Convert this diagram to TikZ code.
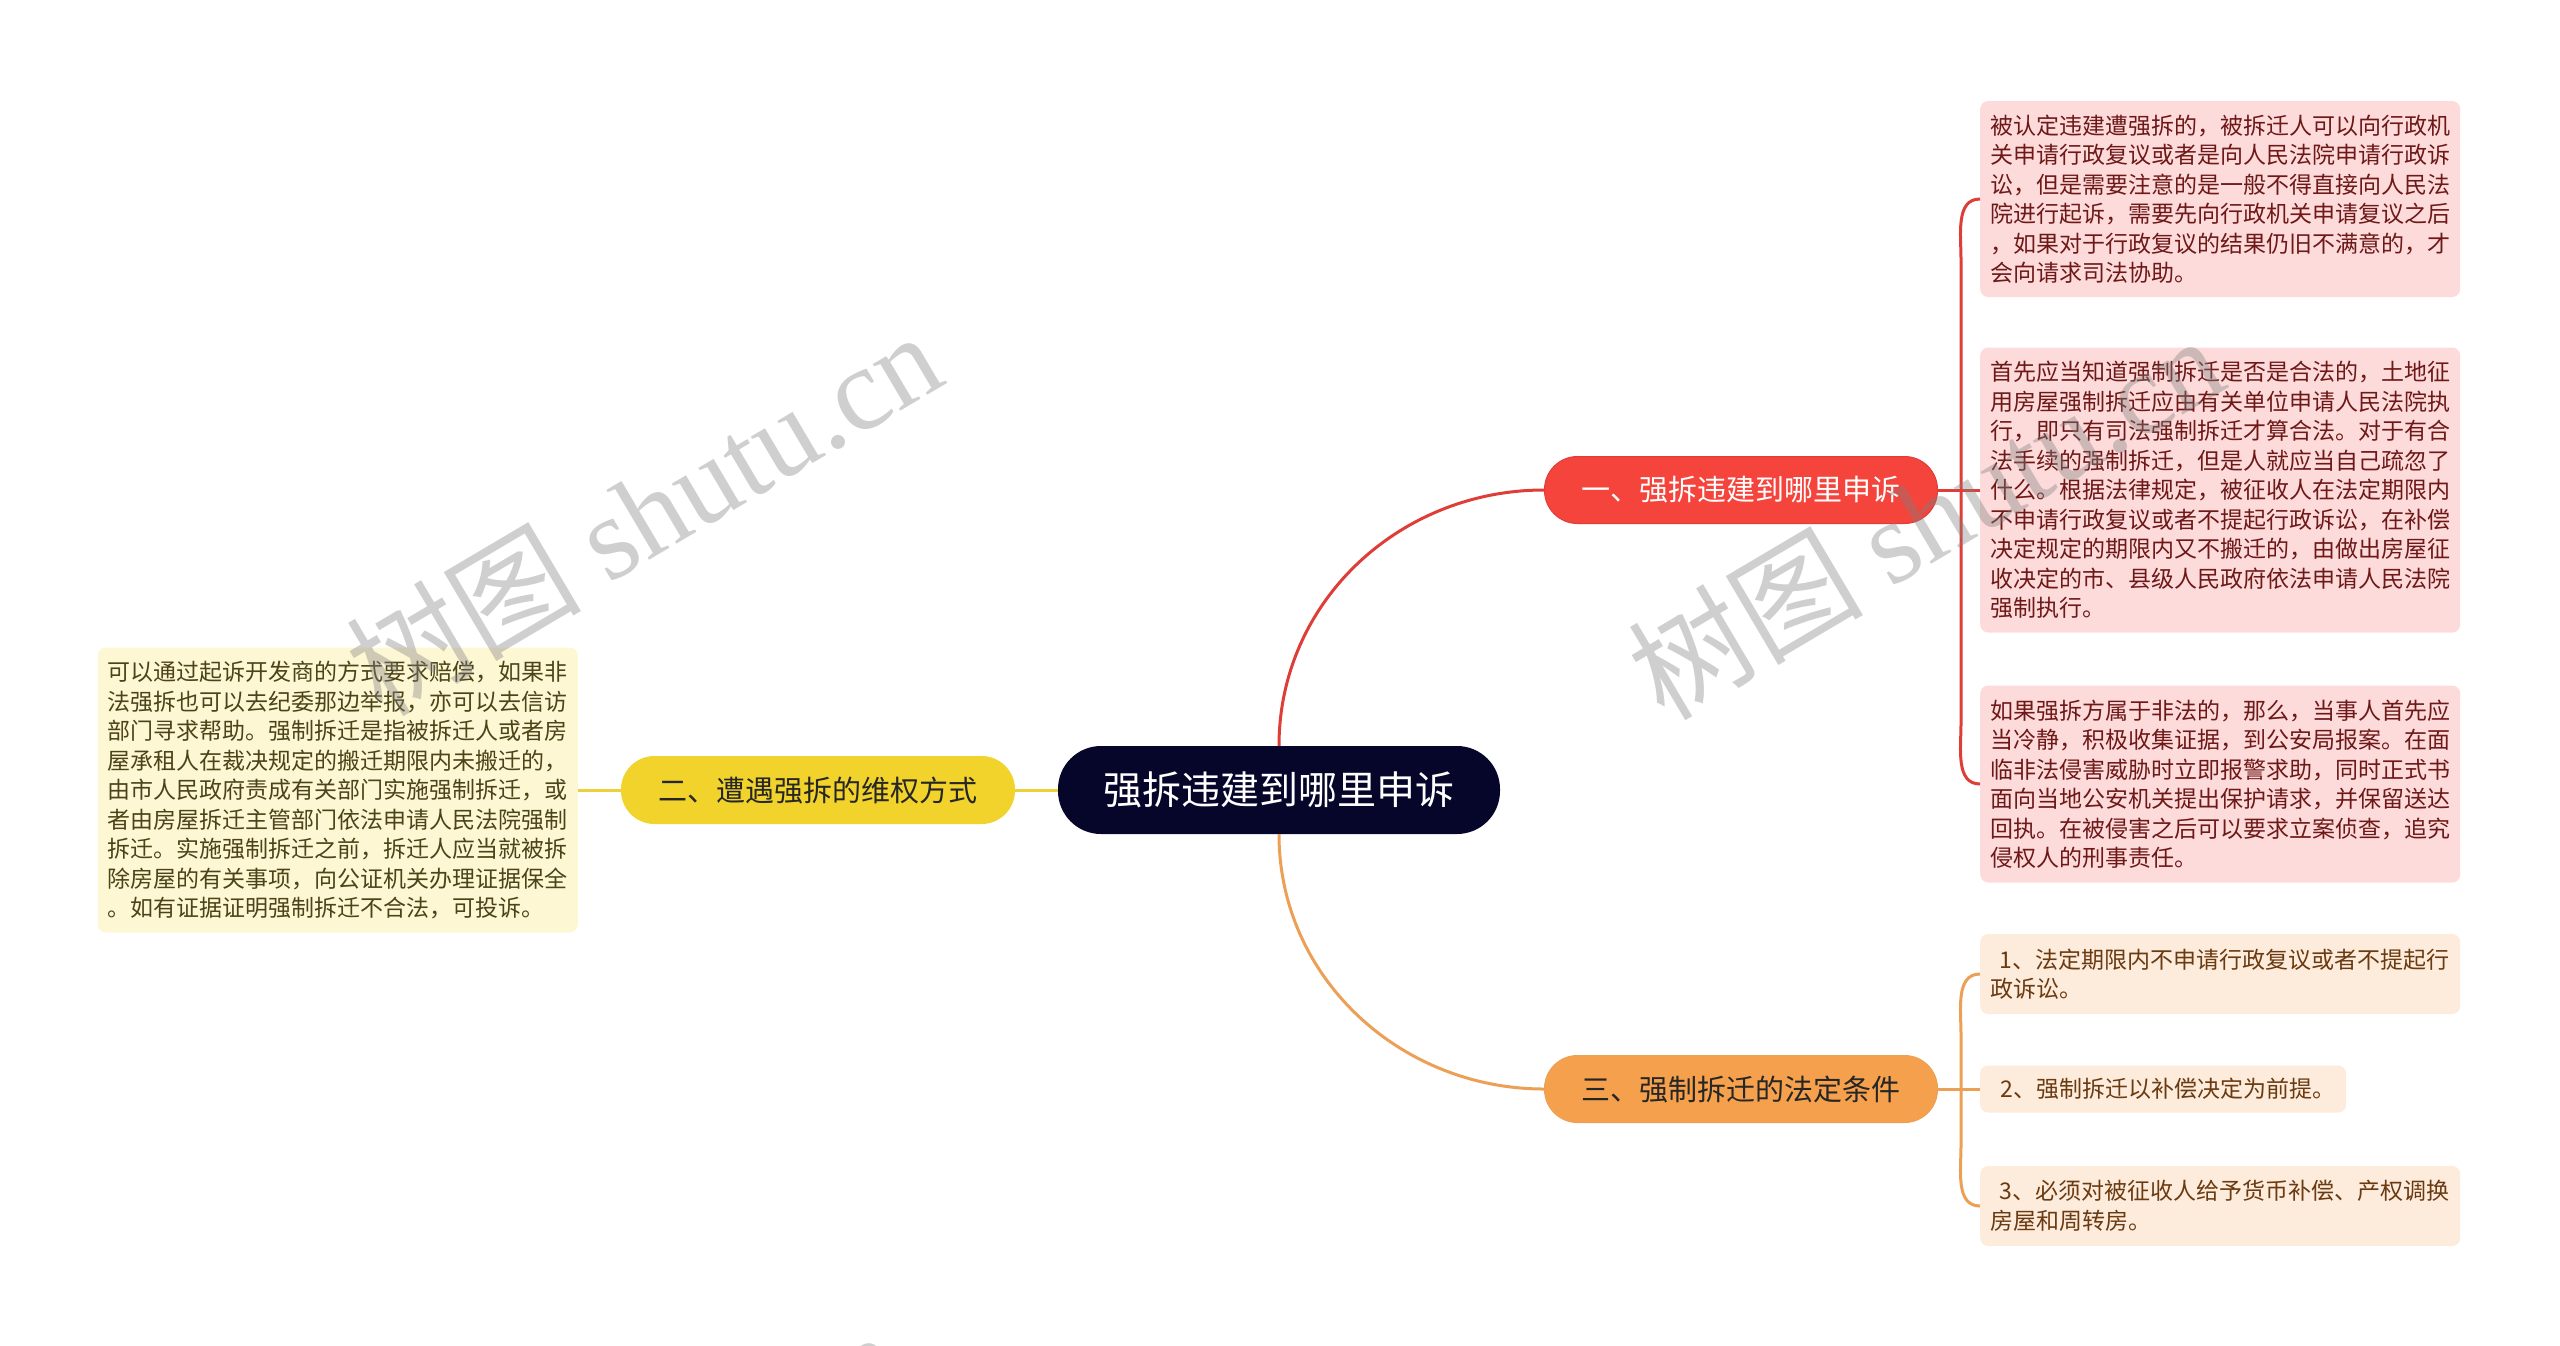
\documentclass[tikz,border=0pt]{standalone}
\usepackage{fontspec}
\setmainfont{Noto Sans CJK SC}
\newfontfamily\wmlatin{Liberation Serif}
\usetikzlibrary{calc}
\definecolor{navy}{HTML}{05062A}
\definecolor{redN}{HTML}{F4443C}
\definecolor{redL}{HTML}{DE3E37}
\definecolor{redF}{HTML}{FDDBDB}
\definecolor{redT}{HTML}{6E1818}
\definecolor{orgN}{HTML}{F5A04C}
\definecolor{orgL}{HTML}{EBA056}
\definecolor{orgF}{HTML}{FDEBDC}
\definecolor{orgT}{HTML}{6A3A10}
\definecolor{ylwN}{HTML}{F2D32B}
\definecolor{ylwL}{HTML}{ECD03C}
\definecolor{ylwF}{HTML}{FEF7D4}
\definecolor{ylwT}{HTML}{4B4418}
\tikzset{
	root/.style={fill=navy,text=white,rounded corners=43pt,minimum width=442pt,minimum height=88pt,inner sep=0pt,font=\fontsize{39}{44}\selectfont},
	topic/.style={rounded corners=33pt,minimum width=393pt,minimum height=67pt,inner sep=0pt,line width=1pt,font=\fontsize{29}{34}\selectfont},
	leaf/.style={anchor=west,rounded corners=8pt,align=left,inner xsep=10pt,inner ysep=0pt,minimum width=480pt,font=\fontsize{23}{29.5}\selectfont},
	link/.style={line width=3pt},
	wm/.style={text=gray,text opacity=0.38,rotate=30.6,font=\fontsize{118}{120}\selectfont}
}
\begin{document}
\begin{tikzpicture}[x=1pt,y=-1pt]
	\useasboundingbox (0,0) rectangle (2560,1345);
	%Trung tam
	\node[root] (root) at (1279,790) {强拆违建到哪里申诉};
	%Nhanh 1,2,3
	\node[topic,fill=redN,draw=redL,text=white] (t1) at (1741,490) {一、强拆违建到哪里申诉};
	\node[topic,fill=ylwN,draw=ylwN,text=black!85] (t2) at (818,790) {二、遭遇强拆的维权方式};
	\node[topic,fill=orgN,draw=orgL,text=black!85] (t3) at (1741,1089) {三、强制拆迁的法定条件};
	%La nhanh 1
	\node[leaf,fill=redF,text=redT,minimum height=196pt] (r1) at (1980,199) {被认定违建遭强拆的，被拆迁人可以向行政机\\关申请行政复议或者是向人民法院申请行政诉\\讼，但是需要注意的是一般不得直接向人民法\\院进行起诉，需要先向行政机关申请复议之后\\，如果对于行政复议的结果仍旧不满意的，才\\会向请求司法协助。};
	\node[leaf,fill=redF,text=redT,minimum height=285pt] (r2) at (1980,490) {首先应当知道强制拆迁是否是合法的，土地征\\用房屋强制拆迁应由有关单位申请人民法院执\\行，即只有司法强制拆迁才算合法。对于有合\\法手续的强制拆迁，但是人就应当自己疏忽了\\什么。根据法律规定，被征收人在法定期限内\\不申请行政复议或者不提起行政诉讼，在补偿\\决定规定的期限内又不搬迁的，由做出房屋征\\收决定的市、县级人民政府依法申请人民法院\\强制执行。};
	\node[leaf,fill=redF,text=redT,minimum height=197pt] (r3) at (1980,784) {如果强拆方属于非法的，那么，当事人首先应\\当冷静，积极收集证据，到公安局报案。在面\\临非法侵害威胁时立即报警求助，同时正式书\\面向当地公安机关提出保护请求，并保留送达\\回执。在被侵害之后可以要求立案侦查，追究\\侵权人的刑事责任。};
	%La nhanh 2
	\node[leaf,anchor=east,fill=ylwF,text=ylwT,minimum height=285pt] (y1) at (578,790) {可以通过起诉开发商的方式要求赔偿，如果非\\法强拆也可以去纪委那边举报，亦可以去信访\\部门寻求帮助。强制拆迁是指被拆迁人或者房\\屋承租人在裁决规定的搬迁期限内未搬迁的，\\由市人民政府责成有关部门实施强制拆迁，或\\者由房屋拆迁主管部门依法申请人民法院强制\\拆迁。实施强制拆迁之前，拆迁人应当就被拆\\除房屋的有关事项，向公证机关办理证据保全\\。如有证据证明强制拆迁不合法，可投诉。};
	%La nhanh 3
	\node[leaf,fill=orgF,text=orgT,minimum height=80pt] (o1) at (1980,974) {\hspace{0.4em}1、法定期限内不申请行政复议或者不提起行\\政诉讼。};
	\node[leaf,fill=orgF,text=orgT,minimum height=47pt,minimum width=366pt] (o2) at (1980,1089) {\hspace{0.4em}2、强制拆迁以补偿决定为前提。};
	\node[leaf,fill=orgF,text=orgT,minimum height=80pt] (o3) at (1980,1206) {\hspace{0.4em}3、必须对被征收人给予货币补偿、产权调换\\房屋和周转房。};
	%Duong noi trung tam
	\draw[link,redL] (root.north) to[out=90,in=180] (t1.west);
	\draw[link,orgL] (root.south) to[out=-90,in=180] (t3.west);
	\draw[link,ylwL] (t2.east) -- (root.west);
	\draw[link,ylwL] (t2.west) -- (y1.east);
	%Ngoac nhanh 1
	\coordinate (j1) at (1961,490);
	\draw[link,redL] (t1.east) -- (r2.west);
	\draw[link,redL] (j1) -- ($(j1|-r1.west)+(0,60)$) to[out=90,in=180] (r1.west);
	\draw[link,redL] (j1) -- ($(j1|-r3.west)+(0,-60)$) to[out=-90,in=180] (r3.west);
	%Ngoac nhanh 3
	\coordinate (j3) at (1961,1089);
	\draw[link,orgL] (t3.east) -- (o2.west);
	\draw[link,orgL] (j3) -- ($(j3|-o1.west)+(0,60)$) to[out=90,in=180] (o1.west);
	\draw[link,orgL] (j3) -- ($(j3|-o3.west)+(0,-60)$) to[out=-90,in=180] (o3.west);
	%Hinh mo
	\node[wm] (wm1) at (643,512) {树图 {\wmlatin shutu.cn}};
	\node[wm] (wm2) at (1925,516) {树图 {\wmlatin shutu.cn}};
	\node[wm] (wm3) at (603,1512) {树图 {\wmlatin shutu.cn}};
	\node[wm] (wm4) at (1885,1516) {树图 {\wmlatin shutu.cn}};
\end{tikzpicture}
\end{document}
